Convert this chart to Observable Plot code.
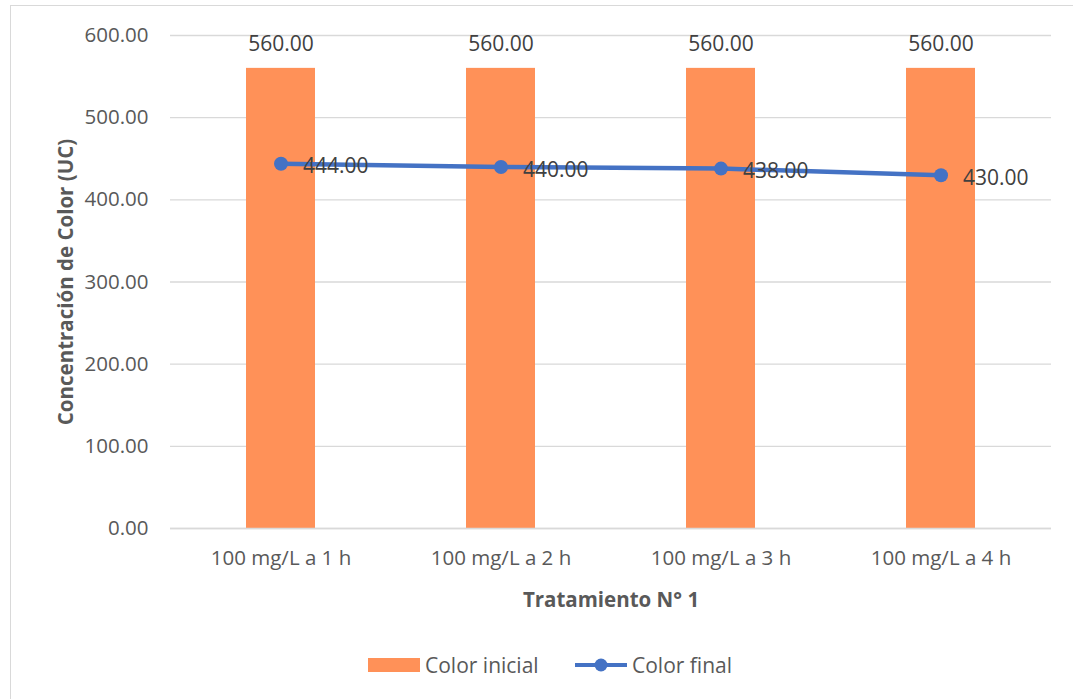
<!DOCTYPE html>
<html>
<head>
<meta charset="utf-8">
<script src="https://cdn.jsdelivr.net/npm/d3@7"></script>
<script src="https://cdn.jsdelivr.net/npm/@observablehq/plot@0.6"></script>
<style>
  body { margin: 0; background: #fff; font-family: "Open Sans", sans-serif; }
  #wrap { position: relative; width: 1073px; height: 699px; overflow: hidden; }
  #frame { position: absolute; left: 10px; top: 5px; width: 1080px; height: 720px; border: 1.5px solid #d9d9d9; box-sizing: border-box; }
  #chart { position: absolute; left: 0; top: 0; }
  #legend { position: absolute; top: 651px; left: 0; width: 1073px; height: 28px; font-size: 21px; color: #595959; }
  .lg { position: absolute; top: 0; line-height: 28px; white-space: nowrap; }
  g[aria-label="y-axis label"] text, g[aria-label="x-axis label"] text { font-weight: bold; }
</style>
</head>
<body>
<div id="wrap">
  <div id="frame"></div>
  <div id="chart"></div>
  <div id="legend">
    <div class="lg" style="left:368px;top:7px;width:52px;height:14px;background:#FF9158"></div>
    <div class="lg" style="left:425px">Color inicial</div>
    <svg class="lg" style="left:575px;top:0" width="52" height="28"><line x1="0" x2="52" y1="14" y2="14" stroke="#4472C4" stroke-width="4"/><circle cx="26" cy="14" r="6.5" fill="#4472C4"/></svg>
    <div class="lg" style="left:632px">Color final</div>
  </div>
</div>
<script>
const categories = ["100 mg/L a 1 h", "100 mg/L a 2 h", "100 mg/L a 3 h", "100 mg/L a 4 h"];
const colorInicial = [560, 560, 560, 560];
const colorFinal = [444, 440, 438, 430];
const yTicks = [0, 100, 200, 300, 400, 500, 600];

const bars = categories.map((c, i) => ({cat: c, v: colorInicial[i]}));
const pts = categories.map((c, i) => ({cat: c, v: colorFinal[i]}));
const fmt = d3.format(".2f");

const chart = Plot.plot({
  width: 1073,
  height: 640,
  marginLeft: 170,
  marginRight: 22,
  marginTop: 35,
  marginBottom: 112,
  style: { fontFamily: "Open Sans, sans-serif", fontSize: "20.5px", color: "#595959", background: "transparent" },
  x: { domain: categories, paddingInner: 0.687, paddingOuter: 0.3435, label: null },
  y: { domain: [0, 600], label: null },
  marks: [
    Plot.gridY(yTicks, { stroke: "#d9d9d9", strokeOpacity: 1, strokeWidth: 1.3 }),
    Plot.axisY(yTicks, { tickSize: 0, tickPadding: 22, tickFormat: fmt, fill: "#595959", fontSize: 20.5,
      label: "Concentración de Color (UC)", labelAnchor: "center", labelArrow: "none", labelOffset: 112 }),
    Plot.axisX({ tickSize: 0, tickPadding: 22, fill: "#595959", fontSize: 20.5,
      label: "Tratamiento N° 1", labelAnchor: "center", labelArrow: "none", labelOffset: 78 }),
    Plot.barY(bars, { x: "cat", y: "v", fill: "#FF9158" }),
    Plot.ruleY([0], { stroke: "#d9d9d9", strokeWidth: 1.3 }),
    Plot.text(bars, { x: "cat", y: "v", text: d => fmt(d.v), dy: -24, fill: "#404040", fontSize: 21 }),
    Plot.line(pts, { x: "cat", y: "v", stroke: "#4472C4", strokeWidth: 4.5 }),
    Plot.dot(pts, { x: "cat", y: "v", r: 7, fill: "#4472C4" }),
    Plot.text(pts, { x: "cat", y: "v", text: d => fmt(d.v), dx: 22, dy: 3, textAnchor: "start", fill: "#404040", fontSize: 21 })
  ]
});
document.getElementById("chart").appendChild(chart);
</script>
</body>
</html>
